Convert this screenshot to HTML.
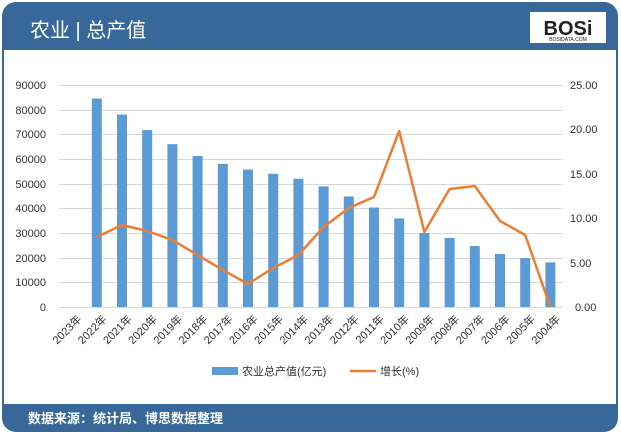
<!DOCTYPE html>
<html><head><meta charset="utf-8"><style>
body{margin:0;width:621px;height:434px;background:#fff;overflow:hidden;font-family:"Liberation Sans","Noto Sans CJK SC",sans-serif}
</style></head><body>
<svg width="621" height="434" xmlns="http://www.w3.org/2000/svg" style="position:absolute;left:0;top:0">
<rect x="2" y="2" width="616" height="430" rx="14" fill="#386899"/>
<rect x="4" y="50" width="612" height="354" fill="#fff"/>
<text x="30" y="37" font-size="20" fill="#fff" font-family="Liberation Sans,Noto Sans CJK SC,sans-serif">农业 | 总产值</text>
<rect x="530" y="12" width="76" height="31" fill="#fff"/>
<text x="568" y="35" font-size="20" font-weight="bold" text-anchor="middle" fill="#222">BOSi</text>
<text x="568" y="41" font-size="5" text-anchor="middle" fill="#222">BOSIDATA.COM</text>
<g stroke="#d9d9d9" stroke-width="1">
<line x1="59" y1="85.5" x2="563" y2="85.5"/><line x1="59" y1="110.5" x2="563" y2="110.5"/><line x1="59" y1="134.5" x2="563" y2="134.5"/><line x1="59" y1="159.5" x2="563" y2="159.5"/><line x1="59" y1="184.5" x2="563" y2="184.5"/><line x1="59" y1="208.5" x2="563" y2="208.5"/><line x1="59" y1="233.5" x2="563" y2="233.5"/><line x1="59" y1="258.5" x2="563" y2="258.5"/><line x1="59" y1="282.5" x2="563" y2="282.5"/><line x1="59" y1="307.5" x2="563" y2="307.5"/>
</g>
<g font-size="11" fill="#333" text-anchor="end">
<text x="46" y="89">90000</text><text x="46" y="114">80000</text><text x="46" y="138">70000</text><text x="46" y="163">60000</text><text x="46" y="188">50000</text><text x="46" y="212">40000</text><text x="46" y="237">30000</text><text x="46" y="262">20000</text><text x="46" y="286">10000</text><text x="46" y="311">0</text>
</g>
<g font-size="11" fill="#333">
<text x="570" y="89">25.00</text><text x="570" y="133">20.00</text><text x="570" y="178">15.00</text><text x="570" y="222">10.00</text><text x="570" y="267">5.00</text><text x="575" y="311">0.00</text>
</g>
<g fill="#5b9bd5" id="bars"></g>
<polyline fill="none" stroke="#ed7d31" stroke-width="2.5" stroke-linejoin="round" points="96.8,237 122,225 147.2,231 172.4,240 197.6,255 222.8,270 248,284 273.2,268 298.4,255 323.6,227 348.8,208 374,197 399.2,131 424.4,232 449.6,189 474.8,186 500,221 525.2,235 550.4,307"/>
<g id="xl" font-size="11" fill="#333"></g>
<rect x="212" y="367" width="26" height="8" fill="#5b9bd5"/>
<text x="242" y="375" font-size="11" fill="#333">农业总产值(亿元)</text>
<line x1="350" y1="371" x2="376" y2="371" stroke="#ed7d31" stroke-width="2.5"/>
<text x="380" y="375" font-size="11" fill="#333">增长(%)</text>
<text x="28" y="423" font-size="13" font-weight="bold" fill="#fff">数据来源：统计局、博思数据整理</text>
</svg>
<script>
var v=[0,84500,78000,71700,66000,61200,58000,55700,54000,52000,48900,44800,40300,35900,30000,28000,24700,21500,19800,18100];
var g=document.getElementById('bars'),xl=document.getElementById('xl'),ns='http://www.w3.org/2000/svg';
for(var i=0;i<20;i++){var c=59+25.2*(i+0.5);var h=v[i]/10000*24.67;
var r=document.createElementNS(ns,'rect');r.setAttribute('x',c-5);r.setAttribute('y',307-h);r.setAttribute('width',10);r.setAttribute('height',h);g.appendChild(r);
var t=document.createElementNS(ns,'text');t.setAttribute('transform','translate('+(c+5)+',314) rotate(-45)');t.setAttribute('text-anchor','end');t.setAttribute('dy','8');t.textContent=(2023-i)+'年';xl.appendChild(t);}
</script>
</body></html>
